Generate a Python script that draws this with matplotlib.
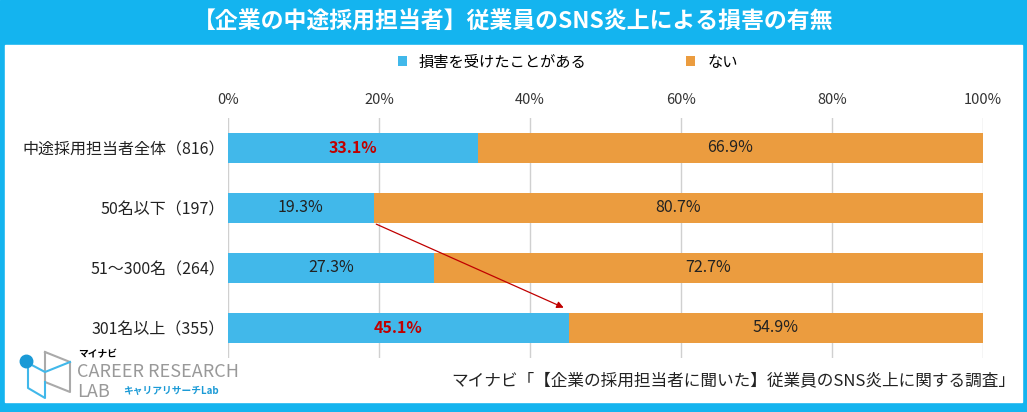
import matplotlib.pyplot as plt
from matplotlib.patches import Rectangle
import numpy as np

plt.rcParams['font.family'] = ['Noto Sans CJK JP', 'DejaVu Sans']

categories = ['中途採用担当者全体（816）', '50名以下（197）', '51～300名（264）', '301名以上（355）']
yes_vals = [33.1, 19.3, 27.3, 45.1]
no_vals = [66.9, 80.7, 72.7, 54.9]
red_labels = [True, False, False, True]

BLUE = '#41b8ea'
ORANGE = '#eb9c3f'
FRAME = '#14b4ef'

fig = plt.figure(figsize=(10.27, 4.12), dpi=100)
W, H = 1027, 412

def fx(px):
    return px / W

def fy(py):
    return 1 - py / H

# frame and title bar
fig.patches.append(Rectangle((0, 0), 1, 1, transform=fig.transFigure, color=FRAME, zorder=0))
fig.patches.append(Rectangle((fx(5), fy(402)), fx(1017), (402 - 45) / H,
                             transform=fig.transFigure, color='white', zorder=1))
fig.text(0.5, fy(22), '【企業の中途採用担当者】従業員のSNS炎上による損害の有無',
         ha='center', va='center', color='white', fontsize=16.5, fontweight='bold')

ax = fig.add_axes([fx(228), fy(358), fx(983 - 228), 240 / H])
ax.set_zorder(2)
y = np.arange(len(categories))
ax.barh(y, yes_vals, height=0.5, color=BLUE, label='損害を受けたことがある', zorder=3)
ax.barh(y, no_vals, left=yes_vals, height=0.5, color=ORANGE, label='ない', zorder=3)

for i in range(len(categories)):
    c = '#c00000' if red_labels[i] else '#222222'
    w = 'bold' if red_labels[i] else 'normal'
    ax.text(yes_vals[i] / 2, y[i], f'{yes_vals[i]:.1f}%', ha='center', va='center',
            color=c, fontweight=w, fontsize=11.5, zorder=4)
    ax.text(yes_vals[i] + no_vals[i] / 2, y[i], f'{no_vals[i]:.1f}%', ha='center',
            va='center', color='#222222', fontsize=11.5, zorder=4)

ax.annotate('', xy=(yes_vals[3] - 0.3, 2.68), xytext=(yes_vals[1], 1.25),
            arrowprops=dict(arrowstyle='-|>', color='#c00000', lw=0.9, mutation_scale=10),
            zorder=5)

ax.set_xlim(0, 100)
ax.set_ylim(3.5, -0.5)
ax.set_yticks(y)
ax.set_yticklabels(categories, fontsize=11.5, color='#222222')
ax.set_xticks(range(0, 101, 20))
ax.set_xticklabels([f'{v}%' for v in range(0, 101, 20)], fontsize=10.5, color='#333333')
ax.xaxis.tick_top()
ax.tick_params(length=0, pad=2)
ax.tick_params(axis='x', pad=8)
ax.grid(axis='x', color='#d0d0d0', lw=1, zorder=0)
for s in ax.spines.values():
    s.set_visible(False)

ax.legend(loc='lower center', bbox_to_anchor=(0.45, 1.14), ncol=2, frameon=False,
          fontsize=11, handlelength=0.6, handleheight=0.6, columnspacing=6.5)

fig.text(fx(1015), fy(381), 'マイナビ「【企業の採用担当者に聞いた】従業員のSNS炎上に関する調査」',
         ha='right', va='center', fontsize=12, color='#222222', zorder=5)

# logo
fig.lines.append(plt.Line2D([fx(45), fx(70), fx(70), fx(45), fx(45)],
                            [fy(352), fy(362), fy(392), fy(382), fy(352)],
                            transform=fig.transFigure, color='#aaaaaa', lw=1.5))
fig.lines.append(plt.Line2D([fx(28), fx(28), fx(45), fx(45)],
                            [fy(368), fy(388), fy(398), fy(382)],
                            transform=fig.transFigure, color=BLUE, lw=1.5))
fig.lines.append(plt.Line2D([fx(28), fx(45), fx(70)], [fy(363), fy(372), fy(362)],
                            transform=fig.transFigure, color=BLUE, lw=1.5))
fig.lines.append(plt.Line2D([fx(26)], [fy(361)], transform=fig.transFigure,
                            marker='o', markersize=9, color='#1a9ad6', zorder=5))
fig.text(fx(78), fy(354), 'マイナビ', fontsize=7, fontweight='bold', va='center')
fig.text(fx(77), fy(372), 'CAREER RESEARCH', fontsize=13, color='#999999', va='center')
fig.text(fx(77), fy(392), 'LAB', fontsize=13, color='#999999', va='center')
fig.text(fx(123), fy(391), 'キャリアリサーチLab', fontsize=7, fontweight='bold',
         color='#1a9ad6', va='center')

fig.savefig('out.png', dpi=100)
